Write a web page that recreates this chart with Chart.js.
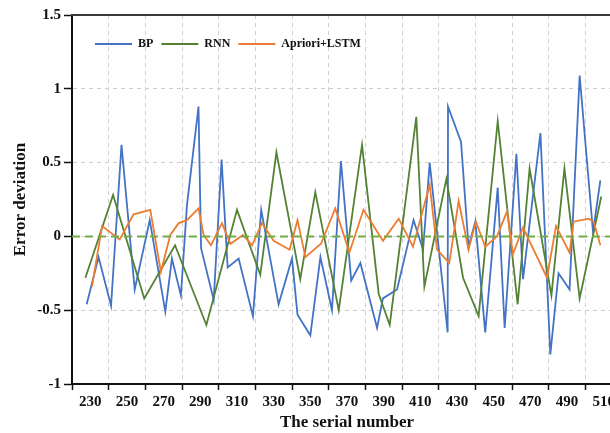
<!DOCTYPE html>
<html>
<head>
<meta charset="utf-8">
<script src="https://cdn.jsdelivr.net/npm/chart.js@4.4.1/dist/chart.umd.min.js"></script>
<style>
    html, body { margin: 0; padding: 0; overflow: hidden; background: #fff; }
</style>
</head>
<body>
<canvas id="chartErreur" width="640" height="433"></canvas>
<script>
// BP
const bpX = [228, 234.5, 241.3, 247, 254.2, 262.4, 270.9, 274.5, 279.4, 282.7, 289, 290.4, 297.3, 301.6, 304.9, 310.9, 318.7, 323.2, 332.7, 340, 343, 350, 355.5, 361.8, 366.7, 372.3, 377.3, 386.4, 389.6, 397.3, 406.3, 411.5, 415.1, 424.9, 425.1, 432.2, 436.3, 440, 445.4, 452.2, 456, 462.4, 466, 475.5, 480.9, 485.4, 491.4, 496.9, 504.2, 508.2];
const bpY = [-0.46, -0.14, -0.47, 0.62, -0.36, 0.11, -0.51, -0.15, -0.40, 0.21, 0.88, -0.08, -0.43, 0.52, -0.21, -0.15, -0.54, 0.18, -0.46, -0.15, -0.53, -0.67, -0.14, -0.50, 0.51, -0.30, -0.18, -0.62, -0.42, -0.36, 0.11, -0.09, 0.50, -0.65, 0.88, 0.64, -0.07, 0.10, -0.65, 0.33, -0.62, 0.56, -0.29, 0.70, -0.80, -0.25, -0.36, 1.09, 0.03, 0.38];

// RNN
const rnnX = [227.3, 242.4, 259.4, 276.2, 293.3, 310, 322.7, 331.5, 344.5, 352.7, 365.5, 378.2, 387.3, 393.3, 407.8, 412.2, 424.2, 433.3, 441.8, 452.2, 463.1, 469.6, 481.5, 488.6, 496.9, 508.7];
const rnnY = [-0.28, 0.28, -0.42, -0.06, -0.60, 0.18, -0.26, 0.57, -0.29, 0.30, -0.50, 0.62, -0.39, -0.60, 0.81, -0.34, 0.39, -0.28, -0.54, 0.78, -0.46, 0.46, -0.40, 0.46, -0.42, 0.27];

// Apriori+LSTM
const lstmX = [230.9, 236.4, 246, 253.6, 262.7, 268.5, 273.6, 278.2, 282.7, 289, 291.8, 295.8, 301.8, 306.4, 313.3, 318.2, 323.6, 330, 338.7, 343, 347.3, 355.8, 363.6, 371.3, 379, 389.6, 398.2, 406, 415.1, 419.1, 425.8, 430.9, 436.3, 440.3, 445.4, 451.8, 457.3, 460.5, 466, 479.1, 484, 491.4, 493.6, 501.8, 504.5, 508.2];
const lstmY = [-0.34, 0.07, -0.02, 0.15, 0.18, -0.24, 0.01, 0.09, 0.11, 0.19, 0.01, -0.06, 0.09, -0.05, 0.01, -0.06, 0.09, -0.03, -0.09, 0.11, -0.14, -0.05, 0.19, -0.11, 0.18, -0.03, 0.12, -0.07, 0.35, -0.09, -0.18, 0.24, -0.09, 0.10, -0.07, 0.00, 0.17, -0.12, 0.06, -0.28, 0.07, -0.11, 0.10, 0.12, 0.10, -0.06];

// ligne de reference a zero
const zeroX = [220, 520];
const zeroY = [0, 0];

// axes
const xMin = 220, xMax = 520;
const yMin = -1, yMax = 1.5;

const points = (xs, ys) => xs.map((x, i) => ({ x: x, y: ys[i] }));

const serif = "'Liberation Serif', 'Times New Roman', serif";

// legende dans la zone du graphique
const legendeInterne = {
    id: "legendeInterne",
    afterDatasetsDraw(chart) {
        const { ctx, chartArea } = chart;
        let x = chartArea.left + 23;
        const y = chartArea.top + 29;
        ctx.save();
        ctx.font = "bold 12px " + serif;
        ctx.textBaseline = "middle";
        chart.data.datasets.forEach(ds => {
            if (!ds.label) return;
            ctx.strokeStyle = ds.borderColor;
            ctx.lineWidth = 2;
            ctx.beginPath();
            ctx.moveTo(x, y);
            ctx.lineTo(x + 37, y);
            ctx.stroke();
            x += 43;
            ctx.fillStyle = "#111";
            ctx.fillText(ds.label, x, y);
            x += ctx.measureText(ds.label).width + 8;
        });
        ctx.restore();
    }
};

// cadre du haut
const cadre = {
    id: "cadre",
    afterDraw(chart) {
        const { ctx, chartArea } = chart;
        ctx.save();
        ctx.strokeStyle = "#3a3a3a";
        ctx.lineWidth = 2;
        ctx.beginPath();
        ctx.moveTo(chartArea.left - 1, chartArea.top);
        ctx.lineTo(chartArea.right, chartArea.top);
        ctx.stroke();
        ctx.restore();
    }
};

const ctxE = document.getElementById("chartErreur");

new Chart(ctxE, {
    type: "line",
    data: {
        datasets: [
            {
                label: "BP",
                data: points(bpX, bpY),
                borderColor: "#4472C4",
                borderWidth: 1.8,
                pointRadius: 0,
                order: 3
            },
            {
                label: "RNN",
                data: points(rnnX, rnnY),
                borderColor: "#548235",
                borderWidth: 1.8,
                pointRadius: 0,
                order: 2
            },
            {
                label: "Apriori+LSTM",
                data: points(lstmX, lstmY),
                borderColor: "#ED7D31",
                borderWidth: 1.8,
                pointRadius: 0,
                order: 1
            },
            {
                label: "",
                data: points(zeroX, zeroY),
                borderColor: "#70AD47",
                borderWidth: 2,
                borderDash: [8, 5],
                pointRadius: 0,
                order: 0
            }
        ]
    },
    options: {
        responsive: false,
        animation: false,
        devicePixelRatio: 1,
        layout: { padding: { left: 0, top: 15, right: 18, bottom: 0 } },
        plugins: {
            legend: { display: false },
            tooltip: { enabled: false }
        },
        scales: {
            x: {
                type: "linear",
                min: xMin,
                max: xMax,
                afterFit: s => { s.height = 49; },
                ticks: {
                    stepSize: 10,
                    autoSkip: false,
                    maxRotation: 0,
                    padding: 3,
                    color: "#111",
                    font: { family: serif, size: 15, weight: "bold" },
                    callback: v => (v % 20 === 10 ? String(v) : "")
                },
                grid: {
                    color: c => (c.tick && c.tick.value % 20 === 0 ? "#cfcfcf" : "rgba(0,0,0,0)"),
                    tickColor: c => (c.tick && c.tick.value % 20 === 0 ? "#111" : "rgba(0,0,0,0)"),
                    tickLength: 6,
                    tickWidth: 1.5,
                    tickBorderDash: [],
                    lineWidth: 1
                },
                border: { display: true, color: "#111", width: 2, dash: [4, 4] },
                title: {
                    display: true,
                    text: "The serial number",
                    color: "#111",
                    padding: { top: 0, bottom: 0 },
                    font: { family: serif, size: 17, weight: "bold" }
                }
            },
            y: {
                min: yMin,
                max: yMax,
                afterFit: s => { s.width = 72; },
                ticks: {
                    stepSize: 0.5,
                    padding: 3,
                    color: "#111",
                    font: { family: serif, size: 15, weight: "bold" },
                    callback: v => String(v)
                },
                grid: {
                    color: "#cfcfcf",
                    tickColor: "#111",
                    tickLength: 8,
                    tickWidth: 1.5,
                    tickBorderDash: [],
                    lineWidth: 1
                },
                border: { display: true, color: "#111", width: 2, dash: [4, 4] },
                title: {
                    display: true,
                    text: "Error deviation",
                    color: "#111",
                    padding: { top: 10, bottom: 0 },
                    font: { family: serif, size: 17, weight: "bold" }
                }
            }
        }
    },
    plugins: [legendeInterne, cadre]
});
</script>
</body>
</html>
